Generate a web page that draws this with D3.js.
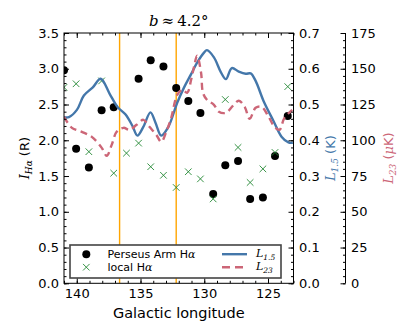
<!DOCTYPE html>
<html>
<head>
<meta charset="utf-8">
<script src="https://cdn.jsdelivr.net/npm/d3@7"></script>
<style>
  body { margin: 0; background: #fff; }
  text { font-family: 'DejaVu Sans', sans-serif; }
  .math { font-family: 'DejaVu Serif', serif; font-style: italic; }
</style>
</head>
<body>
<div id="viz"></div>
<script>
// Perseus Arm H-alpha (black dots)
const perseusL = [141.0, 140.05, 139.05, 138.05, 137.1, 135.15, 134.2, 133.2, 132.2, 131.25, 130.3, 129.3, 128.35, 127.35, 126.4, 125.4, 124.45, 123.45];
const perseusI = [2.98, 1.88, 1.62, 2.42, 2.46, 2.86, 3.12, 3.03, 2.73, 2.55, 2.38, 1.25, 1.65, 1.71, 1.18, 1.20, 1.78, 2.34];

// local H-alpha (green crosses)
const localL = [141.0, 140.05, 139.05, 138.05, 137.1, 136.1, 135.15, 134.2, 133.2, 132.2, 131.25, 130.3, 129.3, 128.35, 127.35, 126.4, 125.4, 124.45, 123.45];
const localI = [2.74, 2.79, 1.84, 2.83, 1.54, 1.82, 1.96, 1.63, 1.51, 1.34, 1.56, 1.46, 1.18, 2.57, 1.90, 1.41, 1.60, 1.83, 2.75];

// L1.5 (K)
const l15L = [141.0, 140.61, 139.99, 139.44, 138.74, 138.12, 137.42, 136.8, 136.17, 135.63, 135.24, 134.77, 134.22, 133.83, 133.37, 132.82, 132.12, 131.58, 131.03, 130.56, 130.02, 129.79, 129.24, 128.69, 128.3, 127.84, 127.29, 126.75, 126.36, 125.97, 125.35, 124.57, 123.94, 123.4, 123.05];
const l15V = [0.4645, 0.465, 0.485, 0.525, 0.548, 0.572, 0.53, 0.493, 0.472, 0.44, 0.413, 0.438, 0.478, 0.45, 0.413, 0.437, 0.505, 0.548, 0.585, 0.617, 0.645, 0.652, 0.632, 0.59, 0.571, 0.602, 0.592, 0.586, 0.587, 0.566, 0.51, 0.454, 0.41, 0.394, 0.393];

// L23 (uK)
const l23L = [141.0, 140.38, 139.6, 138.82, 138.04, 137.65, 137.26, 136.87, 136.33, 135.86, 135.31, 134.77, 134.3, 133.76, 133.37, 132.98, 132.59, 132.12, 131.73, 131.34, 131.03, 130.8, 130.56, 130.25, 130.1, 129.79, 129.24, 128.85, 128.3, 127.76, 127.29, 126.83, 126.44, 125.97, 125.5, 124.95, 124.49, 124.1, 123.71, 123.1];
const l23V = [116.4, 108.7, 105.9, 102.4, 94.7, 89.1, 96.8, 105.9, 108.7, 107.3, 110.8, 114.3, 109.4, 103.8, 98.9, 105.9, 115.7, 131.8, 135.3, 133.2, 142.3, 151.4, 159.1, 147.2, 133.2, 128.3, 124.8, 119.9, 119.2, 124.1, 127.6, 123.4, 115.0, 122.7, 123.4, 116.4, 109.4, 107.3, 115.7, 121.3];

// boundaries (orange verticals)
const markerL = [136.64, 132.2];

const xTicks = [140, 135, 130, 125];
const yTicks = [0, 0.5, 1, 1.5, 2, 2.5, 3, 3.5];
const y15Ticks = [0, 0.1, 0.2, 0.3, 0.4, 0.5, 0.6, 0.7];
const y23Ticks = [0, 25, 50, 75, 100, 125, 150, 175];

const W = 415, H = 332;
const m = {left: 64, right: 293.5, top: 33, bottom: 283.3};
const axis23X = 345.5;
const blue = '#4477aa', pink = '#cc6677', green = '#228833';

const svg = d3.select('#viz').append('svg')
    .attr('width', W).attr('height', H);

const x = d3.scaleLinear().domain([141, 123]).range([m.left, m.right]);
const y = d3.scaleLinear().domain([0, 3.5]).range([m.bottom, m.top]);
const y15 = d3.scaleLinear().domain([0, 0.7]).range([m.bottom, m.top]);
const y23 = d3.scaleLinear().domain([0, 175]).range([m.bottom, m.top]);

svg.append('defs').append('clipPath').attr('id', 'clip')
    .append('rect')
    .attr('x', m.left).attr('y', m.top)
    .attr('width', m.right - m.left).attr('height', m.bottom - m.top);

const plot = svg.append('g').attr('clip-path', 'url(#clip)');

// orange boundary lines
plot.selectAll('.bound').data(markerL).join('line')
    .attr('x1', d => x(d)).attr('x2', d => x(d))
    .attr('y1', m.top).attr('y2', m.bottom)
    .attr('stroke', 'orange').attr('stroke-width', 1.4);

// black points
plot.selectAll('.pers').data(perseusL).join('circle')
    .attr('cx', d => x(d))
    .attr('cy', (d, i) => y(perseusI[i]))
    .attr('r', 4)
    .attr('fill', 'black');

// green crosses
const cross = d3.symbol().type(d3.symbolX).size(30);
plot.selectAll('.loc').data(localL).join('path')
    .attr('d', cross)
    .attr('transform', (d, i) => `translate(${x(d)},${y(localI[i])})`)
    .attr('fill', 'none')
    .attr('stroke', green)
    .attr('stroke-width', 0.9);

// lines
const line15 = d3.line()
    .x(d => x(d[0])).y(d => y15(d[1]))
    .curve(d3.curveCatmullRom);
const line23 = d3.line()
    .x(d => x(d[0])).y(d => y23(d[1]))
    .curve(d3.curveCatmullRom);

plot.append('path')
    .datum(l15L.map((d, i) => [d, l15V[i]]))
    .attr('d', line15)
    .attr('fill', 'none').attr('stroke', blue).attr('stroke-width', 2.4);

plot.append('path')
    .datum(l23L.map((d, i) => [d, l23V[i]]))
    .attr('d', line23)
    .attr('fill', 'none').attr('stroke', pink).attr('stroke-width', 2.4)
    .attr('stroke-dasharray', '7,4.5');

// frame
svg.append('rect')
    .attr('x', m.left).attr('y', m.top)
    .attr('width', m.right - m.left).attr('height', m.bottom - m.top)
    .attr('fill', 'none').attr('stroke', 'black').attr('stroke-width', 1);

const styleAxis = (g, fs) => {
    g.select('.domain').remove();
    g.selectAll('line').attr('stroke', 'black');
    g.selectAll('text').attr('fill', 'black')
        .style('font-size', fs + 'px')
        .style('font-family', "'DejaVu Sans', sans-serif");
};

const range = (a, b, s) => d3.range(Math.round((b - a) / s) + 1).map(i => +(a + i * s).toFixed(4));

// x axes (bottom + top, ticks inward)
svg.append('g').attr('transform', `translate(0,${m.bottom})`)
    .call(d3.axisBottom(x).tickValues(range(123, 141, 1)).tickSize(-2.5).tickFormat(''))
    .call(g => styleAxis(g, 13));
svg.append('g').attr('transform', `translate(0,${m.bottom})`)
    .call(d3.axisBottom(x).tickValues(xTicks).tickSize(-5).tickPadding(5).tickFormat(d3.format('d')))
    .call(g => styleAxis(g, 13));
svg.append('g').attr('transform', `translate(0,${m.top})`)
    .call(d3.axisTop(x).tickValues(range(123, 141, 1)).tickSize(-2.5).tickFormat(''))
    .call(g => styleAxis(g, 13));
svg.append('g').attr('transform', `translate(0,${m.top})`)
    .call(d3.axisTop(x).tickValues(xTicks).tickSize(-5).tickFormat(''))
    .call(g => styleAxis(g, 13));

// left axis
svg.append('g').attr('transform', `translate(${m.left},0)`)
    .call(d3.axisLeft(y).tickValues(range(0, 3.5, 0.1)).tickSize(-2.5).tickFormat(''))
    .call(g => styleAxis(g, 13));
svg.append('g').attr('transform', `translate(${m.left},0)`)
    .call(d3.axisLeft(y).tickValues(yTicks).tickSize(-5).tickPadding(5).tickFormat(d3.format('.1f')))
    .call(g => styleAxis(g, 13));

// right axis L1.5
svg.append('g').attr('transform', `translate(${m.right},0)`)
    .call(d3.axisRight(y15).tickValues(range(0, 0.7, 0.02)).tickSize(-2.5).tickFormat(''))
    .call(g => styleAxis(g, 13));
svg.append('g').attr('transform', `translate(${m.right},0)`)
    .call(d3.axisRight(y15).tickValues(y15Ticks).tickSize(-5).tickPadding(5.5).tickFormat(d3.format('.1f')))
    .call(g => styleAxis(g, 13));

// offset axis L23
svg.append('line')
    .attr('x1', axis23X).attr('x2', axis23X)
    .attr('y1', m.top).attr('y2', m.bottom)
    .attr('stroke', 'black').attr('stroke-width', 1);
svg.append('g').attr('transform', `translate(${axis23X},0)`)
    .call(d3.axisRight(y23).tickValues(range(0, 175, 5)).tickSize(-2.5).tickFormat(''))
    .call(g => styleAxis(g, 13));
svg.append('g').attr('transform', `translate(${axis23X},0)`)
    .call(d3.axisRight(y23).tickValues(y23Ticks).tickSize(-5).tickPadding(5.5).tickFormat(d3.format('d')))
    .call(g => styleAxis(g, 13));

// title
const title = svg.append('text')
    .attr('x', (m.left + m.right) / 2).attr('y', 26)
    .attr('text-anchor', 'middle')
    .style('font-size', '15px');
title.append('tspan').attr('class', 'math').text('b');
title.append('tspan').style('font-family', "'DejaVu Serif', serif").text('\u2009\u2248\u20094.2\u00b0');

// x label
svg.append('text')
    .attr('x', (m.left + m.right) / 2).attr('y', 318)
    .attr('text-anchor', 'middle')
    .style('font-size', '14.5px')
    .text('Galactic longitude');

// y labels (rotated)
const yLabel = (xPos, color, sub, unit) => {
    const t = svg.append('text')
        .attr('transform', `translate(${xPos},${(m.top + m.bottom) / 2}) rotate(-90)`)
        .attr('text-anchor', 'middle')
        .attr('fill', color)
        .style('font-size', '13px');
    t.append('tspan').attr('class', 'math').text(sub[0]);
    t.append('tspan').attr('class', 'math').attr('dy', 3).style('font-size', '9px').text(sub[1]);
    t.append('tspan').attr('dy', -3).text(' (');
    unit.forEach(u => t.append('tspan').attr('class', u[1] ? 'math' : null).text(u[0]));
    t.append('tspan').text(')');
};
yLabel(29, 'black', ['I', 'H\u03b1'], [['R', false]]);
yLabel(335, blue, ['L', '1.5'], [['K', false]]);
yLabel(393, pink, ['L', '23'], [['\u03bc', true], ['K', false]]);

// legend
const leg = svg.append('g');
leg.append('rect')
    .attr('x', 70).attr('y', 245)
    .attr('width', 211).attr('height', 33)
    .attr('fill', 'white').attr('stroke', '#444').attr('stroke-width', 1.6);

const rows = [254.2, 267.2];
leg.append('circle').attr('cx', 86.3).attr('cy', rows[0]).attr('r', 4).attr('fill', 'black');
leg.append('path').attr('d', cross)
    .attr('transform', `translate(86.3,${rows[1]})`)
    .attr('fill', 'none').attr('stroke', green).attr('stroke-width', 0.9);

const legText = (xp, yp, parts) => {
    const t = leg.append('text').attr('x', xp).attr('y', yp + 4).style('font-size', '11px');
    parts.forEach(p => {
        const s = t.append('tspan').text(p.t);
        if (p.math) s.attr('class', 'math');
        if (p.dy) s.attr('dy', p.dy);
        if (p.fs) s.style('font-size', p.fs);
    });
};
legText(107.5, rows[0], [{t: 'Perseus Arm H'}, {t: '\u03b1', math: true}]);
legText(107.5, rows[1], [{t: 'local H'}, {t: '\u03b1', math: true}]);

leg.append('line').attr('x1', 222).attr('x2', 247).attr('y1', rows[0]).attr('y2', rows[0])
    .attr('stroke', blue).attr('stroke-width', 2.4);
leg.append('line').attr('x1', 222).attr('x2', 247).attr('y1', rows[1]).attr('y2', rows[1])
    .attr('stroke', pink).attr('stroke-width', 2.4).attr('stroke-dasharray', '8,5');
legText(256, rows[0] - 1, [{t: 'L', math: true}, {t: '1.5', math: true, dy: 2.5, fs: '7.5px'}]);
legText(256, rows[1] - 1, [{t: 'L', math: true}, {t: '23', math: true, dy: 2.5, fs: '7.5px'}]);
</script>
</body>
</html>
